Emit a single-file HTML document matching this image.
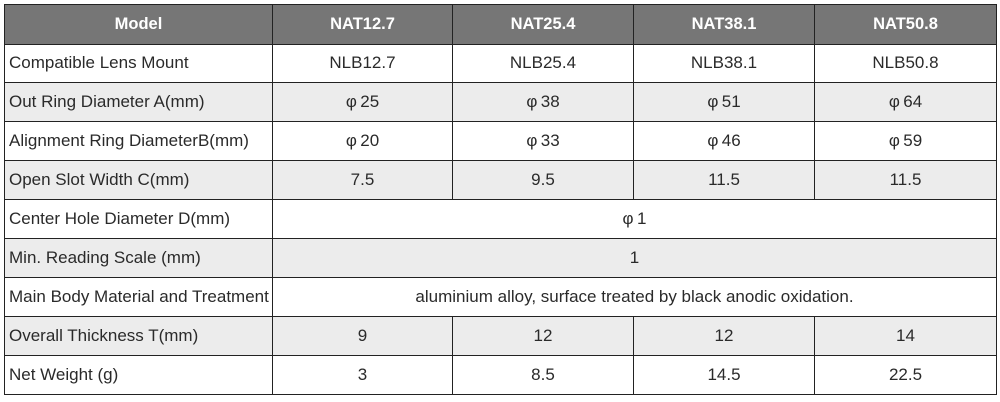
<!DOCTYPE html>
<html><head><style>
body{margin:0;width:1000px;height:402px;background:#fff;overflow:hidden;font-family:"Liberation Sans",Arial,sans-serif;}
table{position:absolute;left:4px;top:4px;border-collapse:collapse;table-layout:fixed;width:992px;}
td,th{border:1px solid #222;height:37.9px;padding:0;font-size:17px;color:#2a2a2a;text-align:center;white-space:nowrap;}
th{background:#767676;color:#fff;font-weight:bold;height:38.5px;font-size:16.5px;}
td:first-child{text-align:left;padding-left:4px;}
tr.g td{background:#ececec;}
</style></head><body>
<table>
<colgroup><col style="width:268px"><col style="width:180px"><col style="width:181px"><col style="width:181px"><col style="width:182px"></colgroup>
<tr><th>Model</th><th>NAT12.7</th><th>NAT25.4</th><th>NAT38.1</th><th>NAT50.8</th></tr>
<tr><td>Compatible Lens Mount</td><td>NLB12.7</td><td>NLB25.4</td><td>NLB38.1</td><td>NLB50.8</td></tr>
<tr class="g"><td>Out Ring Diameter A(mm)</td><td>φ&thinsp;25</td><td>φ&thinsp;38</td><td>φ&thinsp;51</td><td>φ&thinsp;64</td></tr>
<tr><td>Alignment Ring DiameterB(mm)</td><td>φ&thinsp;20</td><td>φ&thinsp;33</td><td>φ&thinsp;46</td><td>φ&thinsp;59</td></tr>
<tr class="g"><td>Open Slot Width C(mm)</td><td>7.5</td><td>9.5</td><td>11.5</td><td>11.5</td></tr>
<tr><td>Center Hole Diameter D(mm)</td><td colspan="4">φ&thinsp;1</td></tr>
<tr class="g"><td>Min. Reading Scale (mm)</td><td colspan="4">1</td></tr>
<tr><td>Main Body Material and Treatment</td><td colspan="4">aluminium alloy, surface treated by black anodic oxidation.</td></tr>
<tr class="g"><td>Overall Thickness T(mm)</td><td>9</td><td>12</td><td>12</td><td>14</td></tr>
<tr><td>Net Weight (g)</td><td>3</td><td>8.5</td><td>14.5</td><td>22.5</td></tr>
</table>
</body></html>
